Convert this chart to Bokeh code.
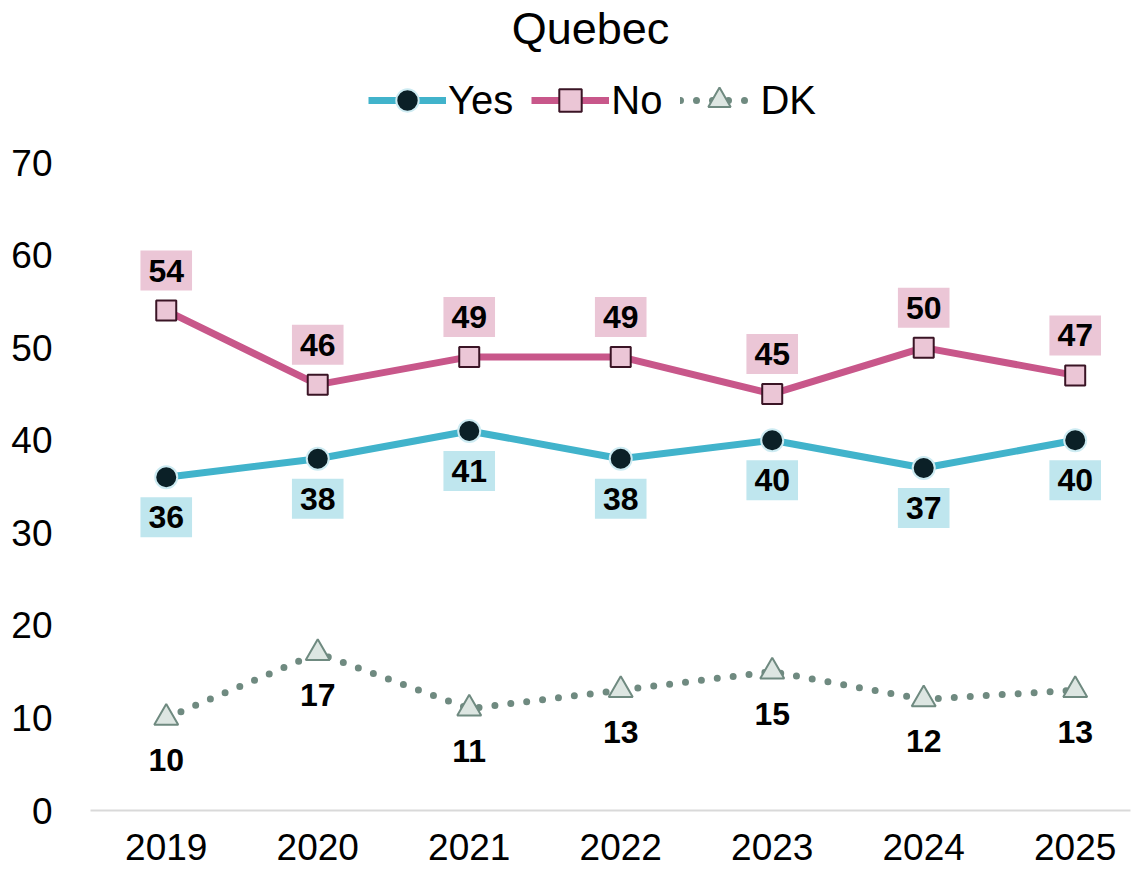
from bokeh.plotting import figure
from bokeh.models import (ColumnDataSource, Range1d, Legend, LegendItem,
                          FixedTicker, Label)
from bokeh.core.properties import value
from bokeh.embed import file_html
from bokeh.resources import INLINE

years = [2019, 2020, 2021, 2022, 2023, 2024, 2025]
yes_vals = [36, 38, 41, 38, 40, 37, 40]
no_vals = [54, 46, 49, 49, 45, 50, 47]
dk_vals = [10, 17, 11, 13, 15, 12, 13]
y_ticks = [0, 10, 20, 30, 40, 50, 60, 70]

FONT = "Liberation Sans"
YES_LINE = "#41B3CB"
YES_MARK = "#0B2027"
YES_BOX = "#BFE6EE"
NO_LINE = "#C8578A"
NO_MARK = "#EBC6D6"
NO_EDGE = "#3A1425"
DK_LINE = "#6F8A80"
DK_MARK = "#DDE6E2"

src = ColumnDataSource(dict(
    x=years, yes=yes_vals, no=no_vals, dk=dk_vals,
    yes_t=[str(v) for v in yes_vals], no_t=[str(v) for v in no_vals],
    dk_t=[str(v) for v in dk_vals]))

# the frame reaches the top of the canvas; the empty headroom above 70
# holds the title and the legend
p = figure(width=1136, height=870, output_backend="svg",
           toolbar_location=None,
           x_range=Range1d(2018.5, 2025.365), y_range=Range1d(0, 87.5),
           min_border_left=90, min_border_right=6, min_border_top=0,
           min_border_bottom=60)
p.outline_line_color = None
p.background_fill_color = "white"
p.border_fill_color = "white"
p.xgrid.grid_line_color = None
p.ygrid.grid_line_color = None

# axes
p.xaxis.ticker = FixedTicker(ticks=years)
p.yaxis.ticker = FixedTicker(ticks=y_ticks)
for ax in (p.xaxis[0], p.yaxis[0]):
    ax.major_tick_line_color = None
    ax.minor_tick_line_color = None
    ax.major_label_text_font = FONT
    ax.major_label_text_font_size = "37px"
    ax.major_label_text_color = "black"
p.xaxis.axis_line_color = "#D9D9D9"
p.xaxis.axis_line_width = 2
p.xaxis.major_label_standoff = 17
p.yaxis.axis_line_color = None
p.yaxis.major_label_standoff = 32

# lines
r_yes_l = p.line("x", "yes", source=src, line_color=YES_LINE, line_width=7)
r_no_l = p.line("x", "no", source=src, line_color=NO_LINE, line_width=7)
r_dk_l = p.line("x", "dk", source=src, line_color=DK_LINE, line_width=7,
                line_dash="0 16", line_cap="round")

# markers
r_yes_m = p.scatter("x", "yes", source=src, marker="circle", size=22,
                    fill_color=YES_MARK, line_color="#CDEBF2", line_width=2)
r_no_m = p.scatter("x", "no", source=src, marker="square", size=20,
                   fill_color=NO_MARK, line_color=NO_EDGE, line_width=2)
r_dk_m = p.scatter("x", "dk", source=src, marker="triangle", size=24,
                   fill_color=DK_MARK, line_color=DK_LINE, line_width=2)

# data labels
common = dict(text_font=value(FONT), text_font_size="32px", text_font_style="bold",
              text_color="black", text_align="center", text_baseline="middle")
pad = dict(left=8, right=8, top=9, bottom=9)
p.text("x", "no", text="no_t", source=src, y_offset=-40,
       background_fill_color=NO_MARK, padding=pad, **common)
p.text("x", "yes", text="yes_t", source=src, y_offset=40,
       background_fill_color=YES_BOX, padding=pad, **common)
p.text("x", "dk", text="dk_t", source=src, y_offset=42, **common)

# legend
legend = Legend(items=[
    LegendItem(label="Yes", renderers=[r_yes_l, r_yes_m]),
    LegendItem(label="No", renderers=[r_no_l, r_no_m]),
    LegendItem(label="DK", renderers=[r_dk_l, r_dk_m]),
], orientation="horizontal", location=(278, 682),
    label_text_font=FONT, label_text_font_size="40px", label_text_color="black",
    glyph_width=78, glyph_height=56, spacing=18, label_standoff=2,
    border_line_color=None, background_fill_alpha=0, padding=0, margin=0)
p.add_layout(legend, "center")

# title
p.add_layout(Label(x=500, y=782, x_units="screen", y_units="screen",
                   text="Quebec", text_font=FONT, text_font_size="45px",
                   text_color="black", text_align="center",
                   text_baseline="middle"))

open("out.html", "w").write(file_html(p, INLINE))
